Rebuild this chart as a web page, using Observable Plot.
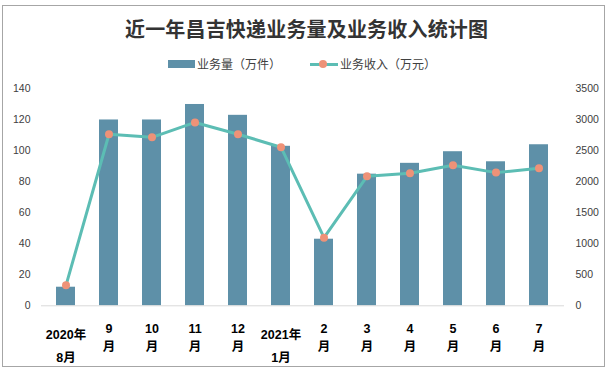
<!DOCTYPE html>
<html>
<head>
<meta charset="utf-8">
<script src="https://cdn.jsdelivr.net/npm/d3@7"></script>
<script src="https://cdn.jsdelivr.net/npm/@observablehq/plot@0.6"></script>
<style>
  html, body { margin: 0; padding: 0; background: #fff; }
  body { width: 613px; height: 372px; position: relative; overflow: hidden; font-family: "Liberation Sans", "Noto Sans CJK SC", sans-serif; }
  #frame { position: absolute; left: 2px; top: 5px; width: 603px; height: 362px; border: 1px solid #a6a6a6; box-sizing: border-box; }
  #titlebox { position: absolute; left: 0; width: 613px; top: 14px; text-align: center; line-height: 30px; }
  #title { display: inline-block; font-family: "Noto Sans CJK SC", serif; font-weight: 700; font-size: 20px; color: #333; white-space: nowrap; }
  #legend { position: absolute; top: 55px; left: 0; width: 613px; height: 18px; font-family: "Noto Sans CJK SC", sans-serif; font-size: 12px; color: #404040; }
  .lg { position: absolute; top: 0; line-height: 18px; white-space: nowrap; }
  .sw-bar { position: absolute; top: 5px; width: 27px; height: 8px; background: #5e90a8; }
  .sw-line { position: absolute; top: 7.5px; width: 28px; height: 3px; background: #5cbdb4; }
  .sw-dot { position: absolute; top: 5px; width: 8px; height: 8px; border-radius: 50%; background: #ee9278; }
  #chart { position: absolute; left: 0; top: 80px; }
</style>
</head>
<body>
<div id="frame"></div>
<div id="titlebox"><span id="title">近一年昌吉快递业务量及业务收入统计图</span></div>
<div id="legend">
  <div class="sw-bar" style="left:168px"></div>
  <div class="lg" style="left:197px">业务量（万件）</div>
  <div class="sw-line" style="left:310px"></div>
  <div class="sw-dot" style="left:319px"></div>
  <div class="lg" style="left:340px">业务收入（万元）</div>
</div>
<div id="chart"></div>
<script>
// ---- data ----
const months = ["2020年8月", "9月", "10月", "11月", "12月", "2021年1月", "2月", "3月", "4月", "5月", "6月", "7月"];
const tickLabels = ["2020年\n8月", "9\n月", "10\n月", "11\n月", "12\n月", "2021年\n1月", "2\n月", "3\n月", "4\n月", "5\n月", "6\n月", "7\n月"];
const volume = [12, 120, 120, 130, 123, 103, 43, 85, 92, 99.5, 93, 104];       // 业务量（万件）
const revenue = [330, 2770, 2720, 2960, 2770, 2560, 1100, 2090, 2140, 2270, 2150, 2220]; // 业务收入（万元）
const leftTicks = [0, 20, 40, 60, 80, 100, 120, 140];
const rightTicks = [0, 500, 1000, 1500, 2000, 2500, 3000, 3500];

// fit title to the reference's width (~363px) using letter spacing
(function fitTitle() {
  const t = document.getElementById("title");
  const n = t.textContent.length;
  const w = t.getBoundingClientRect().width;
  const target = 363;
  const ls = (target - w) / (n - 1);
  t.style.letterSpacing = ls + "px";
  t.style.marginRight = (-ls) + "px";
})();

const ratio = 3500 / 140;
const rows = months.map((m, i) => ({month: m, volume: volume[i], revenue: revenue[i]}));
const labelOf = new Map(months.map((m, i) => [m, tickLabels[i]]));
const yearMonths = months.filter(m => m.includes("年"));
const plainMonths = months.filter(m => !m.includes("年"));

const chart = Plot.plot({
  width: 613,
  height: 285,
  marginLeft: 41,
  marginRight: 49,
  marginTop: 8.5,
  marginBottom: 59.7,
  style: {fontFamily: "'Liberation Sans', 'Noto Sans CJK SC', sans-serif", background: "transparent", color: "#404040"},
  x: {type: "band", domain: months, paddingInner: 0.555, paddingOuter: 0.2775, axis: null},
  y: {domain: [0, 140], axis: null},
  marks: [
    Plot.barY(rows, {x: "month", y: "volume", fill: "#5e90a8"}),
    Plot.ruleY([0], {stroke: "#d9d9d9", strokeWidth: 1}),
    Plot.line(rows, {x: "month", y: d => d.revenue / ratio, stroke: "#5cbdb4", strokeWidth: 3}),
    Plot.dot(rows, {x: "month", y: d => d.revenue / ratio, r: 4, fill: "#ee9278", stroke: "none"}),
    Plot.axisY(leftTicks, {anchor: "left", label: null, tickSize: 0, tickPadding: 11, fontSize: 10.5, tickFormat: d => d, fill: "#404040"}),
    Plot.axisY(rightTicks.map(v => v / ratio), {anchor: "right", label: null, tickSize: 0, tickPadding: 11, fontSize: 10.5, tickFormat: d => String(Math.round(d * ratio)), fill: "#404040"}),
    Plot.axisX(plainMonths, {anchor: "bottom", label: null, tickSize: 0, tickPadding: 13.5, lineHeight: 1.5, fontSize: 12.5, fontWeight: "bold", fill: "#000", tickFormat: d => labelOf.get(d)}),
    Plot.axisX(yearMonths, {anchor: "bottom", label: null, tickSize: 0, tickPadding: 17, lineHeight: 1.85, fontSize: 12.5, fontWeight: "bold", fill: "#000", tickFormat: d => labelOf.get(d)})
  ]
});
document.getElementById("chart").appendChild(chart);
</script>
</body>
</html>
